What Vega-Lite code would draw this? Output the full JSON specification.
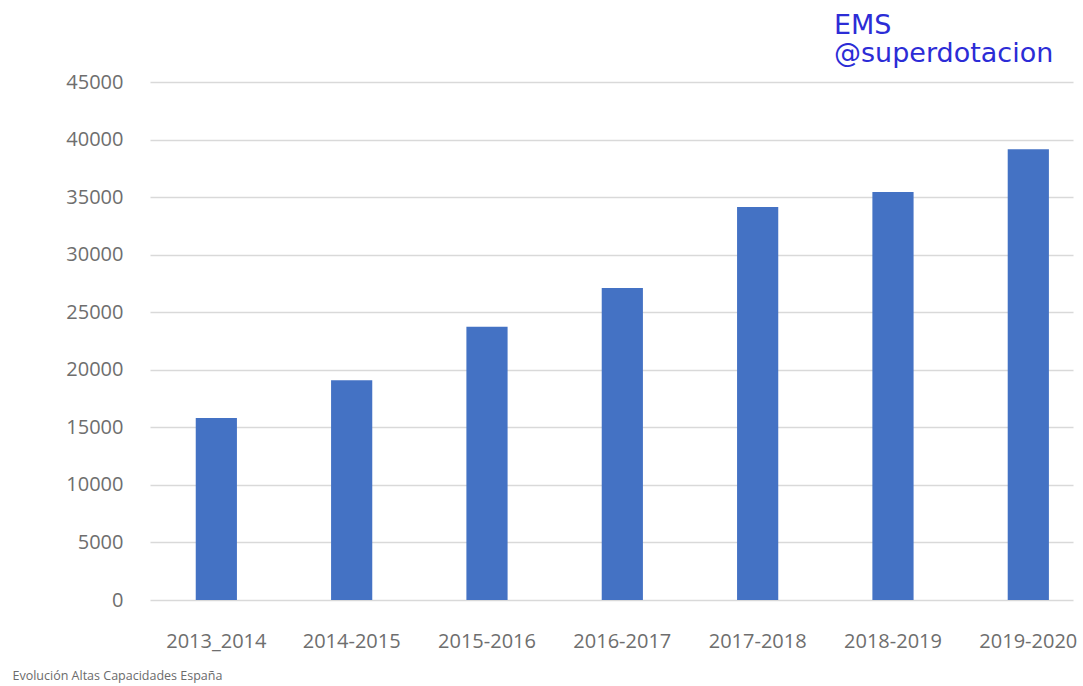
{
  "$schema": "https://vega.github.io/schema/vega-lite/v6.json",
  "width": 923,
  "height": 518,
  "autosize": {"type": "none"},
  "padding": {"left": 150, "top": 82, "right": 10, "bottom": 86},
  "background": "white",
  "title": {
    "text": ["EMS", "@superdotacion"],
    "anchor": "start",
    "align": "left",
    "dx": 822,
    "font": "DejaVu Sans",
    "fontSize": 27,
    "fontWeight": "normal",
    "lineHeight": 28.5,
    "color": "#2c2cd6",
    "offset": 4
  },
  "data": {
    "values": [
      {"curso": "2013_2014", "alumnos": 15800},
      {"curso": "2014-2015", "alumnos": 19100},
      {"curso": "2015-2016", "alumnos": 23730},
      {"curso": "2016-2017", "alumnos": 27110},
      {"curso": "2017-2018", "alumnos": 34140},
      {"curso": "2018-2019", "alumnos": 35440},
      {"curso": "2019-2020", "alumnos": 39150}
    ]
  },
  "mark": {"type": "bar", "color": "#4472C4"},
  "encoding": {
    "x": {
      "field": "curso",
      "type": "nominal",
      "sort": null,
      "scale": {"paddingInner": 0.6956, "paddingOuter": 0.258, "align": 0.655, "round": false},
      "axis": {
        "title": "Evolución Altas Capacidades España",
        "titleX": -138,
        "titleY": 79,
        "titleAlign": "left",
        "titleAnchor": "start",
        "titleBaseline": "alphabetic",
        "titleFont": "Open Sans",
        "titleFontSize": 12.5,
        "titleFontWeight": "normal",
        "titleColor": "#6b6b6b",
        "labelAngle": 0,
        "labelFont": "Open Sans",
        "labelFontSize": 20,
        "labelColor": "#6e6e6e",
        "labelPadding": 31,
        "ticks": false,
        "domain": false,
        "grid": false
      }
    },
    "y": {
      "field": "alumnos",
      "type": "quantitative",
      "scale": {"domain": [0, 45000], "nice": false},
      "axis": {
        "title": null,
        "values": [0, 5000, 10000, 15000, 20000, 25000, 30000, 35000, 40000, 45000],
        "format": "d",
        "labelFont": "Open Sans",
        "labelFontSize": 20,
        "labelColor": "#6e6e6e",
        "labelPadding": 27,
        "ticks": false,
        "domain": false,
        "grid": true,
        "gridColor": "#d9d9d9",
        "gridWidth": 1.5
      }
    }
  },
  "config": {"view": {"stroke": null}}
}
